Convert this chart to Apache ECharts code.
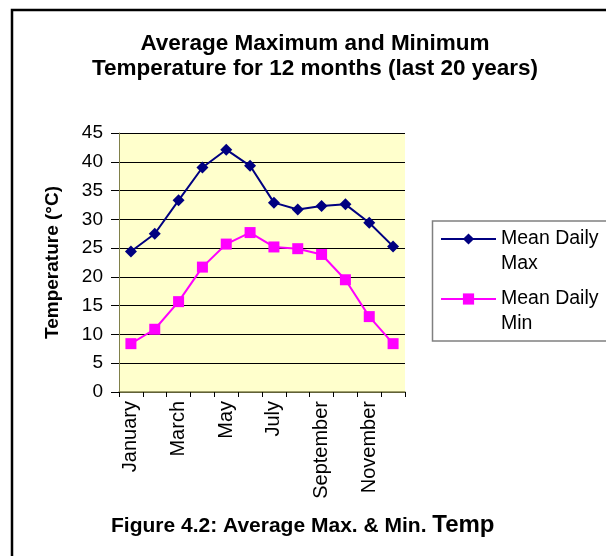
<!DOCTYPE html>
<html>
<head>
<meta charset="utf-8">
<script src="https://cdn.jsdelivr.net/npm/echarts@6/dist/echarts.min.js"></script>
<style>
html,body{margin:0;padding:0;background:#fff;}
#c{width:606px;height:556px;}
</style>
</head>
<body>
<div id="c"></div>
<script>
var months = ['January','February','March','April','May','June','July','August','September','October','November','December'];
var meanDailyMax = [24.4, 27.5, 33.3, 39.0, 42.1, 39.3, 32.9, 31.7, 32.3, 32.6, 29.4, 25.3];
var meanDailyMin = [8.4, 10.9, 15.7, 21.7, 25.7, 27.7, 25.2, 24.9, 23.9, 19.5, 13.1, 8.4];
var yTicks = [0, 5, 10, 15, 20, 25, 30, 35, 40, 45];

var FONT = "'Liberation Sans', Arial, sans-serif";
var chart = echarts.init(document.getElementById('c'), null, {renderer: 'canvas'});

function legendFmt(name) {
  var parts = name.split(' ');
  return '\n' + parts.slice(0, 2).join(' ') + '\n' + parts.slice(2).join(' ');
}

var option = {
  backgroundColor: '#ffffff',
  animation: false,
  textStyle: {fontFamily: FONT},
  title: [{
    text: 'Average Maximum and Minimum\nTemperature for 12 months (last 20 years)',
    left: 315,
    textAlign: 'center',
    top: 31,
    padding: 0,
    textStyle: {fontFamily: FONT, fontSize: 22.5, fontWeight: 'bold', color: '#000', lineHeight: 25}
  }, {
    text: '{a|Figure 4.2: Average Max. & Min. }{b|Temp}',
    left: 111,
    top: 513,
    padding: 0,
    textStyle: {
      rich: {
        a: {fontFamily: FONT, fontSize: 21, fontWeight: 'bold', color: '#000', verticalAlign: 'bottom'},
        b: {fontFamily: FONT, fontSize: 24, fontWeight: 'bold', color: '#000', verticalAlign: 'bottom'}
      }
    }
  }],
  legend: [{
    data: ['Mean Daily Max'],
    orient: 'vertical',
    left: 440,
    top: 201.5,
    padding: 0,
    itemWidth: 55,
    itemHeight: 14,
    itemGap: 0,
    formatter: legendFmt,
    selectedMode: false,
    textStyle: {fontFamily: FONT, fontSize: 19.5, color: '#000', lineHeight: 25}
  }, {
    data: ['Mean Daily Min'],
    orient: 'vertical',
    left: 440,
    top: 261.5,
    padding: 0,
    itemWidth: 55,
    itemHeight: 14,
    itemGap: 0,
    formatter: legendFmt,
    selectedMode: false,
    textStyle: {fontFamily: FONT, fontSize: 19.5, color: '#000', lineHeight: 25}
  }],
  grid: {
    left: 119, top: 133, width: 286, height: 259,
    show: true, backgroundColor: '#FFFFCC', borderWidth: 0
  },
  xAxis: {
    type: 'category',
    data: months,
    boundaryGap: true,
    axisLine: {show: true, lineStyle: {color: '#80804a', width: 1.5}},
    axisTick: {show: true, interval: 0, length: 5, lineStyle: {color: '#000'}},
    axisLabel: {interval: 1, rotate: 90, margin: 9, fontFamily: FONT, fontSize: 20, color: '#000'},
    splitLine: {show: false}
  },
  yAxis: {
    type: 'value',
    min: 0, max: 45, interval: 5,
    name: 'Temperature (°C)',
    nameLocation: 'middle',
    nameGap: 57,
    nameTextStyle: {fontFamily: FONT, fontSize: 19, fontWeight: 'bold', color: '#000'},
    axisLine: {show: true, lineStyle: {color: '#80804a', width: 1}},
    axisTick: {show: true, length: 8, lineStyle: {color: '#000'}},
    axisLabel: {
      margin: 16, fontFamily: FONT, fontSize: 19, color: '#000',
      formatter: function (v) { return yTicks.indexOf(v) >= 0 ? String(v) : ''; }
    },
    splitLine: {show: true, lineStyle: {color: '#000', width: 1}}
  },
  series: [{
    name: 'Mean Daily Max',
    type: 'line',
    data: meanDailyMax,
    symbol: 'diamond',
    symbolSize: 12,
    lineStyle: {color: '#000080', width: 2},
    itemStyle: {color: '#000080'}
  }, {
    name: 'Mean Daily Min',
    type: 'line',
    data: meanDailyMin,
    symbol: 'rect',
    symbolSize: 11,
    lineStyle: {color: '#FF00FF', width: 2},
    itemStyle: {color: '#FF00FF'}
  }],
  graphic: [{
    type: 'rect',
    shape: {x: 12, y: 10, width: 700, height: 700},
    style: {fill: 'none', stroke: '#000', lineWidth: 2.5},
    silent: true
  }, {
    type: 'rect',
    shape: {x: 432.5, y: 221, width: 300, height: 120},
    style: {fill: 'none', stroke: '#808080', lineWidth: 1.5},
    silent: true
  }]
};
chart.setOption(option);
</script>
</body>
</html>
